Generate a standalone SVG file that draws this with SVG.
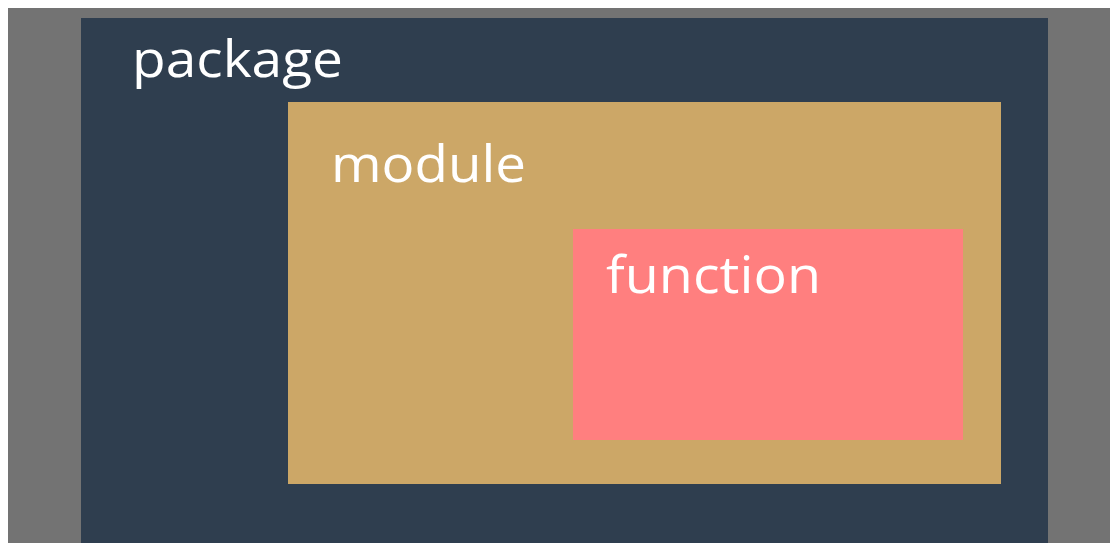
<svg xmlns="http://www.w3.org/2000/svg" width="1110" height="543" viewBox="0 0 1110 543">
  <style>
    .label { font-family: "Open Sans", "Liberation Sans", sans-serif; fill: #ffffff; font-size: 52px; }
  </style>
  <rect x="0" y="0" width="1110" height="543" fill="#ffffff"/>
  <rect x="8" y="8" width="1102" height="535" fill="#737373"/>
  <g id="package">
    <rect x="81" y="18" width="967" height="525" fill="#2f3e4f"/>
    <text class="label" x="132" y="77" textLength="211" lengthAdjust="spacingAndGlyphs">package</text>
  </g>
  <g id="module">
    <rect x="288" y="102" width="713" height="382" fill="#cca767"/>
    <text class="label" x="331" y="182" textLength="195" lengthAdjust="spacingAndGlyphs">module</text>
  </g>
  <g id="function">
    <rect x="573" y="229" width="390" height="211" fill="#ff7f7f"/>
    <text class="label" x="606" y="293" textLength="215" lengthAdjust="spacingAndGlyphs">function</text>
  </g>
  <g id="connectors"/>
</svg>
